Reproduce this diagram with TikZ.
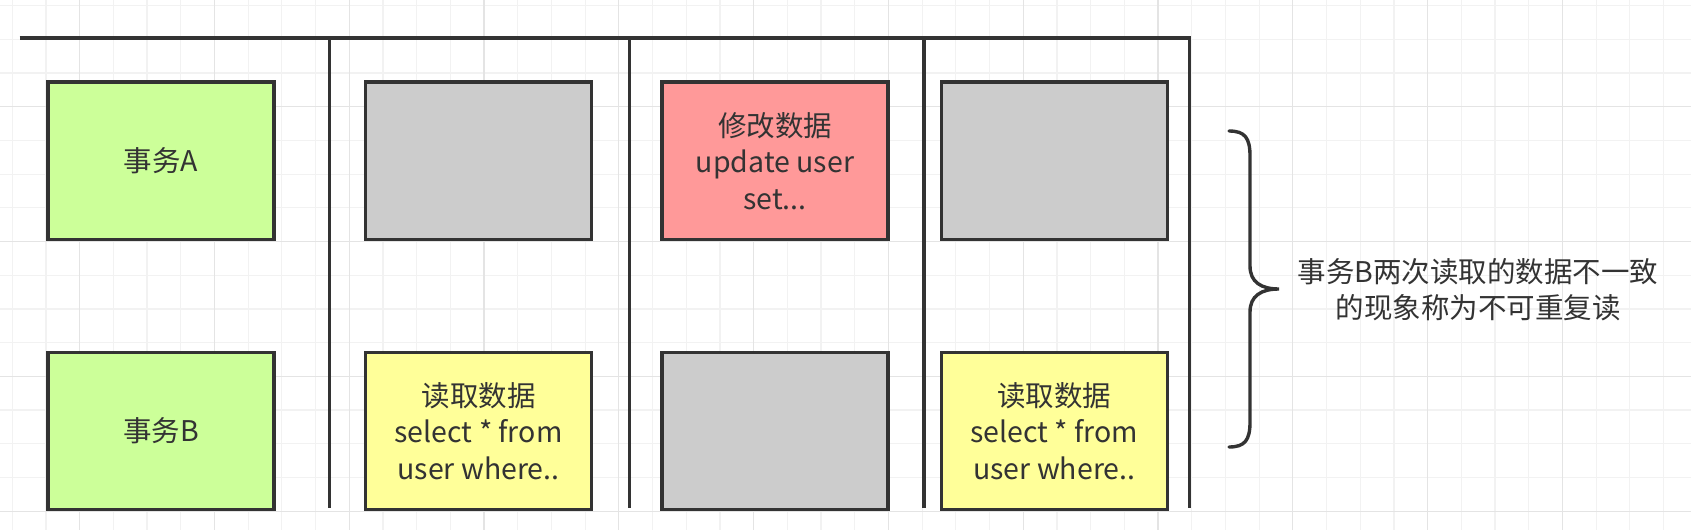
\documentclass[tikz,border=0pt]{standalone}
\usepackage{fontspec}
\setmainfont{Noto Sans CJK SC}
\definecolor{ink}{HTML}{333333}
\definecolor{gminor}{HTML}{F2F2F2}
\definecolor{gmajor}{HTML}{E4E4E4}
\definecolor{boxgreen}{HTML}{CCFF99}
\definecolor{boxgray}{HTML}{CCCCCC}
\definecolor{boxred}{HTML}{FF9999}
\definecolor{boxyellow}{HTML}{FFFF99}
\tikzset{
  cell/.style={draw=ink, line width=3.4pt, minimum width=226pt, minimum height=157.5pt,
    inner sep=0pt, align=center, text=ink, font=\fontsize{28.5}{36.5}\selectfont},
  sep/.style={draw=ink, line width=3.4pt},
  note/.style={text=ink, align=center, font=\fontsize{28.5}{36}\selectfont, inner sep=0pt},
}
\begin{document}
\begin{tikzpicture}[x=1pt,y=-1pt]
\fill[white] (0,0) rectangle (1691,530);
\useasboundingbox (0,0) rectangle (1691,530);
% grid
\foreach \i in {0,...,49} \draw[gminor, line width=1.2pt] ({12.2+\i*33.7},0) -- ({12.2+\i*33.7},530);
\foreach \i in {0,...,15} \draw[gminor, line width=1.2pt] (0,{5.6+\i*33.7}) -- (1691,{5.6+\i*33.7});
\foreach \i in {0,...,12} \draw[gmajor, line width=1.2pt] ({79.6+\i*134.8},0) -- ({79.6+\i*134.8},530);
\foreach \i in {0,...,3} \draw[gmajor, line width=1.2pt] (0,{106.7+\i*134.8}) -- (1691,{106.7+\i*134.8});
% separators
\coordinate (hl) at (19.5,38);
\coordinate (hr) at (1191,38);
\draw[sep] (hl) -- (hr);
\foreach \x/\n in {329.5/v1,629.5/v2,924/v3,1189.5/v4}{
  \coordinate (\n t) at (\x,38);
  \coordinate (\n b) at (\x,508);
  \draw[sep] (\n t) -- (\n b);
}
% boxes
\node[cell, fill=boxgreen] (a1) at (161,160.8) {事务A};
\node[cell, fill=boxgray] (a2) at (478.5,160.8) {};
\node[cell, fill=boxred] (a3) at (775,160.8) {修改数据\\update user\\set...};
\node[cell, fill=boxgray] (a4) at (1054.3,160.8) {};
\node[cell, fill=boxgreen] (b1) at (161,431) {事务B};
\node[cell, fill=boxyellow] (b2) at (478.5,431) {读取数据\\select * from\\user where..};
\node[cell, fill=boxgray] (b3) at (775,431) {};
\node[cell, fill=boxyellow] (b4) at (1054.3,431) {读取数据\\select * from\\user where..};
% brace
\draw[ink, line width=3.4pt, line cap=round]
  (1229,131) .. controls (1245,131) and (1250,138) .. (1250,156)
  -- (1250,266) .. controls (1250,282) and (1261,289) .. (1279,289)
  .. controls (1261,289) and (1250,296) .. (1250,312)
  -- (1250,422) .. controls (1250,440) and (1245,447) .. (1229,447);
\node[note] (txt) at (1478,290) {事务B两次读取的数据不一致\\的现象称为不可重复读};
\end{tikzpicture}
\end{document}
